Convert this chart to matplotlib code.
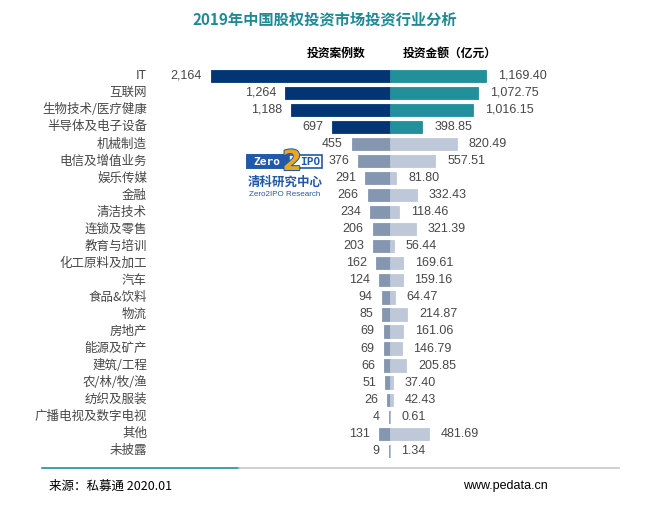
import matplotlib
matplotlib.use("Agg")
import matplotlib.pyplot as plt
from matplotlib.patches import Rectangle
from matplotlib.lines import Line2D
import matplotlib.transforms as mtransforms
import matplotlib.patheffects as pe

categories = ["IT", "互联网", "生物技术/医疗健康", "半导体及电子设备", "机械制造", "电信及增值业务",
              "娱乐传媒", "金融", "清洁技术", "连锁及零售", "教育与培训", "化工原料及加工", "汽车",
              "食品&饮料", "物流", "房地产", "能源及矿产", "建筑/工程", "农/林/牧/渔", "纺织及服装",
              "广播电视及数字电视", "其他", "未披露"]
cases = [2164, 1264, 1188, 697, 455, 376, 291, 266, 234, 206, 203, 162, 124, 94, 85, 69, 69, 66,
         51, 26, 4, 131, 9]
amounts = [1169.40, 1072.75, 1016.15, 398.85, 820.49, 557.51, 81.80, 332.43, 118.46, 321.39, 56.44,
           169.61, 159.16, 64.47, 214.87, 161.06, 146.79, 205.85, 37.40, 42.43, 0.61, 481.69, 1.34]
highlight_n = 4

title = "2019年中国股权投资市场投资行业分析"
left_header = "投资案例数"
right_header = "投资金额（亿元）"
source = "来源：私募通 2020.01"
website = "www.pedata.cn"

W, H = 650, 505
fig = plt.figure(figsize=(W / 100, H / 100), dpi=100)

def fx(x):
    return x / W

def fy(y):
    return 1 - y / H

# axes geometry (pixels)
ax_l, ax_r = 150, 600
center = 389.5
s = 0.0825  # px per unit
row0, row_last = 75.8, 450.8
n = len(categories)
step = (row_last - row0) / (n - 1)
ax_top = row0 - step / 2
ax_bot = row_last + step / 2

ax = fig.add_axes([fx(ax_l), fy(ax_bot), (ax_r - ax_l) / W, (ax_bot - ax_top) / H])
ax.set_xlim(-(center - ax_l) / s, (ax_r - center) / s)
ax.set_ylim(n - 0.5, -0.5)
ax.axis("off")

navy, teal = "#033574", "#21909A"
grayblue, light = "#8597B0", "#BEC8D8"
txtc = "#474747"
numfont = ["Liberation Sans", "Noto Sans CJK SC"]
cjk = ["Noto Sans CJK SC", "DejaVu Sans"]

ypos = list(range(n))
lc = [navy if i < highlight_n else grayblue for i in range(n)]
rc = [teal if i < highlight_n else light for i in range(n)]
ax.barh(ypos, [-c for c in cases], height=0.72, color=lc, edgecolor=lc, linewidth=0.6)
ax.barh(ypos, amounts, height=0.72, color=rc, edgecolor=rc, linewidth=0.6)

for i in range(n):
    ax.annotate(f"{cases[i]:,}", (-cases[i], i), xytext=(-6.5, 0), textcoords="offset points",
                ha="right", va="center", fontsize=9, color=txtc, family=numfont)
    ax.annotate(f"{amounts[i]:,.2f}", (amounts[i], i), xytext=(8.5, 0), textcoords="offset points",
                ha="left", va="center", fontsize=9, color=txtc, family=numfont)

trans = mtransforms.blended_transform_factory(fig.transFigure, ax.transData)
for i, c in enumerate(categories):
    ax.text(fx(147), i, c, transform=trans, ha="right", va="center", fontsize=9,
            color=txtc, family=cjk)

# title & headers
fig.text(fx(325), fy(20), title, ha="center", va="center", fontsize=11, fontweight="bold",
         color="#1F8A94", family=cjk)
fig.text(fx(336), fy(53), left_header, ha="center", va="center", fontsize=8.5,
         fontweight="bold", color="black", family=cjk)
fig.text(fx(403), fy(53), right_header, ha="left", va="center", fontsize=8.5,
         fontweight="bold", color="black", family=cjk)

# footer
fig.add_artist(Line2D([fx(42), fx(239)], [fy(468), fy(468)], color="#21909A", lw=1.2))
fig.add_artist(Line2D([fx(239), fx(619)], [fy(468), fy(468)], color="#C8C8C8", lw=1.2))
fig.text(fx(49), fy(486), source, ha="left", va="center", fontsize=9, color="black", family=cjk)
fig.text(fx(463), fy(486), website, ha="left", va="center", fontsize=9, color="black",
         family=numfont)

# logo
logo_blue = "#2159A8"
fig.add_artist(Rectangle((fx(247), fy(168)), fx(322) - fx(247), fy(155) - fy(168),
                         transform=fig.transFigure, facecolor="white", edgecolor=logo_blue, lw=1.2))
fig.add_artist(Rectangle((fx(247), fy(168)), fx(289) - fx(247), fy(155) - fy(168),
                         transform=fig.transFigure, facecolor=logo_blue, edgecolor=logo_blue, lw=1.2))
fig.text(fx(267), fy(161.5), "Zero", ha="center", va="center", fontsize=8, fontweight="bold",
         color="white", family="DejaVu Sans Mono")
fig.text(fx(292), fy(162), "2", ha="center", va="center", fontsize=20, fontweight="bold",
         color="#E9A820", family="DejaVu Sans",
         path_effects=[pe.withStroke(linewidth=1.5, foreground=logo_blue)])
fig.text(fx(310), fy(161.5), "IPO", ha="center", va="center", fontsize=8, fontweight="bold",
         color=logo_blue, family="DejaVu Sans Mono")
fig.text(fx(285), fy(182), "清科研究中心", ha="center", va="center", fontsize=9, fontweight="bold",
         color=logo_blue, family=cjk)
fig.text(fx(285), fy(194), "Zero2IPO Research", ha="center", va="center", fontsize=5.8,
         color=logo_blue, family="Liberation Sans")

fig.savefig("out.png", dpi=100)
